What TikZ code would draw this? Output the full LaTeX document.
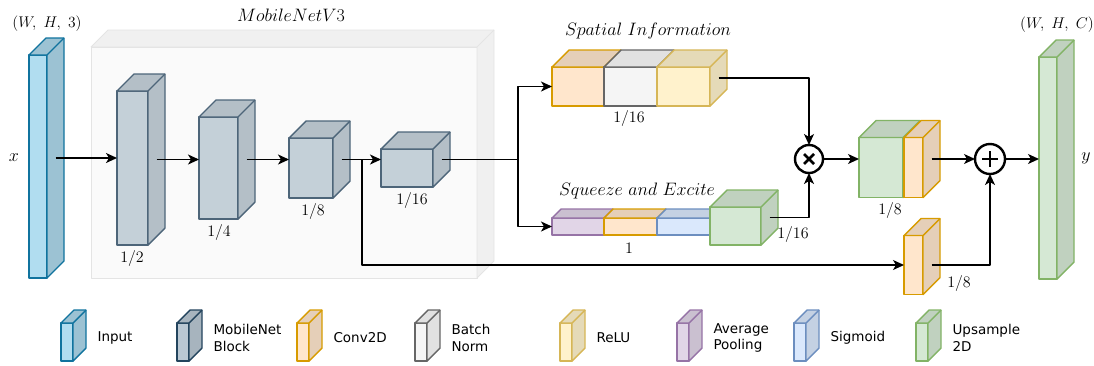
\RequirePackage{fix-cm}
\documentclass[tikz,border=0pt]{standalone}
\usepackage{fontspec}
\usepackage{tikz}
\usetikzlibrary{arrows.meta}
\newfontfamily\legendfont{DejaVu Sans}

% face colours: F = front, S = shaded faces, D = outline
\definecolor{inF}{HTML}{B1DDF0}\definecolor{inD}{HTML}{10739E}
\definecolor{mbF}{HTML}{C4D0D8}\definecolor{mbD}{HTML}{4D6579}
\definecolor{mblF}{HTML}{BAC8D3}\definecolor{mblD}{HTML}{23445D}
\definecolor{cvF}{HTML}{FFE6CC}\definecolor{cvD}{HTML}{D79B00}
\definecolor{bnF}{HTML}{F5F5F5}\definecolor{bnD}{HTML}{666666}
\definecolor{rlF}{HTML}{FFF2CC}\definecolor{rlD}{HTML}{D6B656}
\definecolor{apF}{HTML}{E1D5E7}\definecolor{apD}{HTML}{9673A6}
\definecolor{sgF}{HTML}{DAE8FC}\definecolor{sgD}{HTML}{6C8EBF}
\definecolor{upF}{HTML}{D5E8D4}\definecolor{upD}{HTML}{82B366}
\definecolor{ctF}{HTML}{FAFAFA}\definecolor{ctD}{HTML}{E4E4E4}
\colorlet{inS}{inF!88!black}\colorlet{mbS}{mbF!92!black}
\colorlet{mblS}{mblF!90!black}\colorlet{cvS}{cvF!90!black}
\colorlet{bnS}{bnF!92!black}\colorlet{rlS}{rlF!90!black}
\colorlet{apS}{apF!90!black}\colorlet{sgS}{sgF!90!black}
\colorlet{upS}{upF!90!black}\colorlet{ctS}{ctF!96!black}

\tikzset{
  blk/.style={draw=#1D, fill=#1F, line width=1.4pt, inner sep=0pt, outer sep=0pt},
  arr/.style={-{Stealth[length=11pt,width=10pt,inset=3pt]}, line width=1.5pt},
  wire/.style={line width=1.5pt},
  op/.style={circle, draw, line width=2.4pt, minimum size=28, inner sep=0pt, outer sep=0pt},
}

% top and side faces of a box whose front face is node #2
\newcommand{\boxfaces}[4][]{%
  \filldraw[blk=#4, fill=#4S, #1] (#2.north west) -- ([shift={(#3,-#3)}]#2.north west)
    -- ([shift={(#3,-#3)}]#2.north east) -- ([shift={(#3,-#3)}]#2.south east)
    -- (#2.south east) -- (#2.north east) -- cycle;
  \draw[blk=#4, fill=none, #1] (#2.north east) -- ([shift={(#3,-#3)}]#2.north east);
}

\begin{document}
\begin{tikzpicture}[x=1pt, y=-1pt, line join=round,
  ttl/.style={font=\fontsize{18}{20}\selectfont},
  dim/.style={font=\fontsize{15.5}{18}\selectfont},
  frac/.style={font=\fontsize{16}{18}\selectfont},
  lgd/.style={font=\legendfont\fontsize{13.5}{16.5}\selectfont, anchor=west, align=left}]
  \useasboundingbox (0,0) rectangle (1094,365);

  % MobileNetV3 frame
  \node[blk=ct, line width=0.8pt, minimum width=386, minimum height=231] (mnet) at (284,162.5) {};
  \boxfaces[line width=0.8pt]{mnet}{17}{ct}
  \node[ttl] (mnettxt) at (291,15) {$MobileNetV3$};

  % input
  \node[blk=in, minimum width=18, minimum height=223] (inp) at (38,166.5) {};
  \boxfaces{inp}{17}{in}
  \node[dim] (inpdim) at (47,24) {$(W,\ H,\ 3)$};
  \node[ttl] (inptxt) at (14,158) {$x$};

  % MobileNet blocks
  \node[blk=mb, minimum width=31, minimum height=154] (b1) at (132.5,168) {};
  \boxfaces{b1}{17}{mb}
  \node[blk=mb, minimum width=39, minimum height=102] (b2) at (218.5,168) {};
  \boxfaces{b2}{17}{mb}
  \node[blk=mb, minimum width=44, minimum height=60] (b3) at (311,168) {};
  \boxfaces{b3}{17}{mb}
  \node[blk=mb, minimum width=52, minimum height=38] (b4) at (407,168) {};
  \boxfaces{b4}{17}{mb}
  \node[frac] (b1txt) at (132,258) {$1/2$};
  \node[frac] (b2txt) at (219,232) {$1/4$};
  \node[frac] (b3txt) at (313,211) {$1/8$};
  \node[frac] (b4txt) at (412,200) {$1/16$};

  % spatial information branch
  \node[blk=cv, minimum width=52, minimum height=39] (sc) at (578,86.5) {};
  \boxfaces{sc}{17}{cv}
  \node[blk=bn, minimum width=53, minimum height=39] (sb) at (630.5,86.5) {};
  \boxfaces{sb}{17}{bn}
  \node[blk=rl, minimum width=53, minimum height=39] (sr) at (683.5,86.5) {};
  \boxfaces{sr}{17}{rl}
  \node[ttl] (sptxt) at (648,31) {$Spatial\ Information$};
  \node[frac] (sctxt) at (629,118) {$1/16$};

  % squeeze and excite branch
  \node[blk=ap, minimum width=52, minimum height=17] (qa) at (578,226.5) {};
  \boxfaces{qa}{9}{ap}
  \node[blk=cv, minimum width=53, minimum height=17] (qc) at (630.5,226.5) {};
  \boxfaces{qc}{9}{cv}
  \node[blk=sg, minimum width=53, minimum height=17] (qs) at (683.5,226.5) {};
  \boxfaces{qs}{9}{sg}
  \node[blk=up, minimum width=51, minimum height=38] (qu) at (735.5,226) {};
  \boxfaces{qu}{17}{up}
  \node[ttl] (setxt) at (637,191) {$Squeeze\ and\ Excite$};
  \node[frac] (qatxt) at (629,248) {$1$};
  \node[frac] (qutxt) at (793,234) {$1/16$};

  % fusion
  \node[op] (mul) at (809,159) {};
  \draw[line width=2.8pt] ([shift={(-5,-5)}]mul.center) -- ([shift={(5,5)}]mul.center)
    ([shift={(-5,5)}]mul.center) -- ([shift={(5,-5)}]mul.center);
  \node[blk=up, minimum width=44, minimum height=60] (ug) at (881,167.5) {};
  \boxfaces{ug}{17}{up}
  \node[blk=cv, minimum width=19, minimum height=60] (uc) at (913.5,167.5) {};
  \boxfaces{uc}{17}{cv}
  \node[frac] (ugtxt) at (890,210) {$1/8$};
  \node[blk=cv, minimum width=19, minimum height=59] (lc) at (913.5,265) {};
  \boxfaces{lc}{17}{cv}
  \node[frac] (lctxt) at (959,283) {$1/8$};
  \node[op, minimum size=30] (add) at (990,159) {};
  \draw[line width=2.8pt] ([shift={(-8,0)}]add.center) -- ([shift={(8,0)}]add.center)
    ([shift={(0,-8)}]add.center) -- ([shift={(0,8)}]add.center);

  % output
  \node[blk=up, minimum width=18, minimum height=222] (out) at (1048,168) {};
  \boxfaces{out}{17}{up}
  \node[dim] (outdim) at (1057,25) {$(W,\ H,\ C)$};
  \node[ttl] (outtxt) at (1086,158) {$y$};

  % connection points on the shaded side faces
  \coordinate (inpo) at ([shift={(8.5,-8.5)}]inp.east);
  \coordinate (b1o) at ([shift={(8.5,-8.5)}]b1.east);
  \coordinate (b2o) at ([shift={(8.5,-8.5)}]b2.east);
  \coordinate (b3o) at ([shift={(8.5,-8.5)}]b3.east);
  \coordinate (b4o) at ([shift={(8.5,-8.5)}]b4.east);
  \coordinate (sro) at ([shift={(8.5,-8.5)}]sr.east);
  \coordinate (quo) at ([shift={(8.5,-8.5)}]qu.east);
  \coordinate (uco) at ([shift={(8.5,-8.5)}]uc.east);
  \coordinate (lco) at ([shift={(8.5,0)}]lc.east);
  \coordinate (skip) at (362,159.5);
  \coordinate (split) at (518,159.5);

  % connectors
  \draw[arr] (inpo) -- (inpo -| b1.west);
  \draw[arr] (b1o) -- (b1o -| b2.west);
  \draw[arr] (b2o) -- (b2o -| b3.west);
  \draw[arr] (b3o) -- (b3o -| b4.west);
  \draw[wire] (b4o) -- (split);
  \draw[arr] (split) |- (sc.west);
  \draw[arr] (split) |- (qa.west);
  \draw[arr] (skip) |- (lc.west);
  \draw[arr] (sro) -| (mul.north);
  \draw[arr] (quo) -| (mul.south);
  \draw[arr] (mul.east) -- (mul -| ug.west);
  \draw[arr] (uco) -- (uco -| add.west);
  \draw[arr] (lco) -| (add.south);
  \draw[arr] (add.east) -- (add -| out.west);

  % legend
  \foreach \x/\col/\txt [count=\i] in {61/in/Input, 177/mbl/{MobileNet\\Block},
      297/cv/Conv2D, 415/bn/{Batch\\Norm}, 560/rl/ReLU, 677/ap/{Average\\Pooling},
      794/sg/Sigmoid, 916/up/{Upsample\\2D}} {
    \node[blk=\col, minimum width=12, minimum height=38] (key\i) at (\x+6,342) {};
    \boxfaces{key\i}{13}{\col}
    \node[lgd] (keytxt\i) at (\x+33,338) {\txt};
  }
\end{tikzpicture}
\end{document}
